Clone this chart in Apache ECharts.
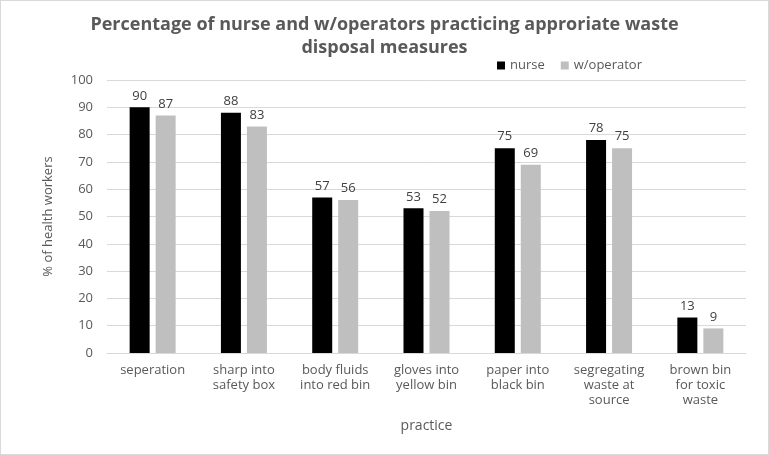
<!DOCTYPE html>
<html><head><meta charset="utf-8">
<script src="https://cdn.jsdelivr.net/npm/echarts@6/dist/echarts.min.js"></script>
<style>html,body{margin:0;padding:0;background:#fff}#c{width:769px;height:455px;box-sizing:border-box;border:1px solid #d9d9d9}</style>
</head><body><div id="c"></div>
<script>
const categories = ["seperation", "sharp into\nsafety box", "body fluids\ninto red bin", "gloves into\nyellow bin", "paper into\nblack bin", "segregating\nwaste at\nsource", "brown bin\nfor toxic\nwaste"];
const nurse = [90, 88, 57, 53, 75, 78, 13];
const operator = [87, 83, 56, 52, 69, 75, 9];
const seriesNames = ["nurse", "w/operator"];
const titleText = "Percentage of nurse and w/operators practicing approriate waste\ndisposal measures";

const F = "'Open Sans', Lato, sans-serif";
const chart = echarts.init(document.getElementById('c'), null, {renderer: 'canvas'});
const lbl = {show: true, position: 'top', distance: 5, color: '#404040', fontSize: 13, fontFamily: F};
chart.setOption({
  animation: false,
  textStyle: {fontFamily: F},
  title: {text: titleText, left: 'center', top: 7,
    textStyle: {fontFamily: F, fontSize: 18, fontWeight: 'bold', color: '#595959', lineHeight: 23}},
  legend: {data: seriesNames, top: 53, left: 491, itemWidth: 8, itemHeight: 8, itemGap: 16,
    icon: 'rect', textStyle: {fontFamily: F, fontSize: 13, color: '#595959'}},
  grid: {left: 106, right: 22, top: 79, bottom: 101},
  xAxis: {type: 'category', data: categories, name: 'practice', nameLocation: 'middle', nameGap: 66,
    nameTextStyle: {fontFamily: F, fontSize: 14, color: '#595959'},
    axisLine: {lineStyle: {color: '#d9d9d9'}}, axisTick: {show: false},
    axisLabel: {fontFamily: F, fontSize: 13, color: '#595959', lineHeight: 15, margin: 10, interval: 0}},
  yAxis: {type: 'value', min: 0, max: 100, interval: 10, name: '% of health workers',
    nameLocation: 'middle', nameGap: 52, nameRotate: 90,
    nameTextStyle: {fontFamily: F, fontSize: 13, color: '#595959'},
    axisLabel: {fontFamily: F, fontSize: 13, color: '#595959', margin: 14},
    splitLine: {lineStyle: {color: '#d9d9d9'}}},
  series: [
    {name: seriesNames[0], type: 'bar', data: nurse, barWidth: 20, barGap: '30%', itemStyle: {color: '#000000'}, label: lbl},
    {name: seriesNames[1], type: 'bar', data: operator, barWidth: 20, itemStyle: {color: '#bfbfbf'}, label: lbl}
  ]
});
</script></body></html>
